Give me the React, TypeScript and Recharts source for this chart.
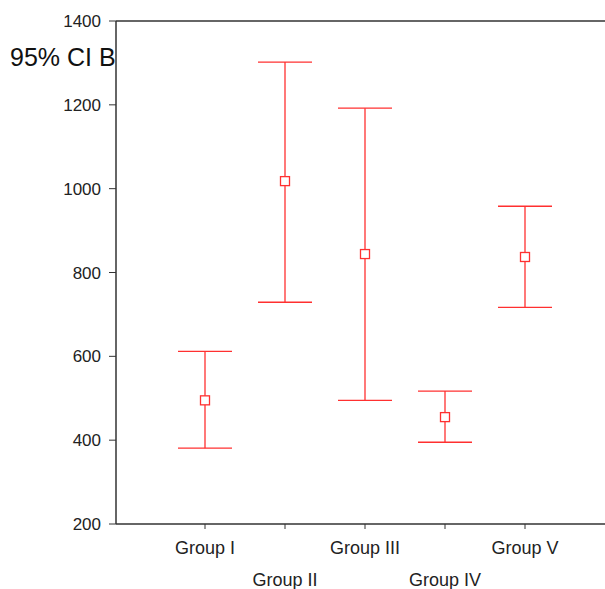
import { ScatterChart, Scatter, ErrorBar, XAxis, YAxis, ReferenceLine } from 'recharts'

const groups = ['Group I', 'Group II', 'Group III', 'Group IV', 'Group V']
const means = [495, 1018, 844, 455, 837]
const lower = [381, 729, 495, 395, 717]
const upper = [612, 1302, 1192, 517, 958]
const yTicks = [200, 400, 600, 800, 1000, 1200, 1400]

const data = groups.map((g, i) => ({
  x: i + 1,
  name: g,
  mean: means[i],
  err: [means[i] - lower[i], upper[i] - means[i]],
}))

const RED = '#ff3030'
const AXIS = '#333'

const Square = (props: any) => {
  const { cx, cy } = props
  return <rect x={cx - 4.5} y={cy - 4.5} width={9} height={9} fill="#fff" stroke={RED} strokeWidth={1.3} />
}

const GroupTick = (props: any) => {
  const { x, y, payload } = props
  const idx = payload.value - 1
  return (
    <text x={x} y={y} dy={idx % 2 === 0 ? 25 : 57} textAnchor="middle" fontSize={18} fill="#222">
      {groups[idx]}
    </text>
  )
}

export default function App() {
  return (
    <div style={{ position: 'absolute', left: 0, top: 0, width: 605, height: 589, background: '#fff', fontFamily: 'Arial, "Liberation Sans", sans-serif' }}>
      <ScatterChart width={605} height={589} margin={{ top: 21, right: 0, bottom: 0, left: 0 }}>
        <XAxis
          type="number"
          dataKey="x"
          domain={[-0.1125, 6]}
          ticks={[1, 2, 3, 4, 5]}
          tick={<GroupTick />}
          tickSize={5}
          tickMargin={0}
          height={65}
          stroke={AXIS}
          axisLine={{ stroke: AXIS, strokeWidth: 1.5 }}
          allowDataOverflow
        />
        <YAxis
          type="number"
          dataKey="mean"
          domain={[200, 1400]}
          ticks={yTicks}
          width={116}
          tickSize={7}
          tickMargin={8}
          stroke={AXIS}
          axisLine={{ stroke: AXIS, strokeWidth: 1.5 }}
          tick={{ fill: '#222', fontSize: 17 }}
          allowDataOverflow
        />
        <ReferenceLine y={1400} stroke={AXIS} strokeWidth={1.5} />
        <Scatter data={data} shape={<Square />} isAnimationActive={false}>
          <ErrorBar dataKey="err" direction="y" width={27} stroke={RED} strokeWidth={1.3} />
        </Scatter>
      </ScatterChart>
      <div style={{ position: 'absolute', left: 10, top: 42, fontSize: 25, color: '#111', lineHeight: '30px' }}>
        95% CI B
      </div>
    </div>
  )
}
